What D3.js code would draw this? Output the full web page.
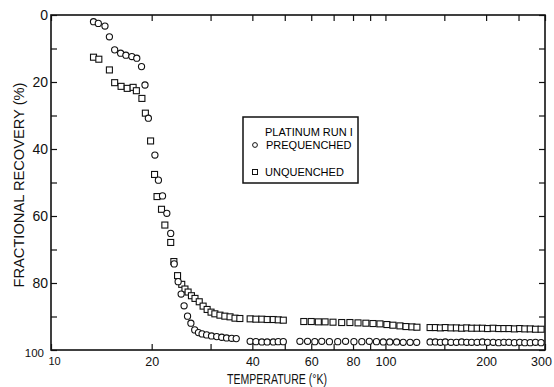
<!DOCTYPE html>
<html>
<head>
<meta charset="utf-8">
<script src="https://cdn.jsdelivr.net/npm/d3@7"></script>
<style>
  body { margin: 0; background: #fff; }
  svg { display: block; font-family: "Liberation Sans", Arial, sans-serif; }
</style>
</head>
<body>
<svg class="svg" width="554" height="387"></svg>
<script>
// prequenched (circles): temperature (K) and fractional recovery (%)
const preTemp = [13.4, 13.85, 14.5, 14.95, 15.5, 16.15, 16.75, 17.45, 18.05, 18.65, 19.1, 19.55,
  20.45, 20.95, 21.55, 22.2, 22.8, 23.35, 24.0, 24.5, 25.0, 25.6, 26.2, 26.9, 27.6, 28.3, 29.2,
  30.2, 31.3, 32.4, 33.5, 34.7, 35.8,
  39.4, 41.0, 42.7, 44.3, 46.2, 47.8, 49.5,
  55.5, 58.5, 61.5, 64.5, 68, 72, 76, 80.5, 85, 89.5, 94, 98.5, 103, 108, 113, 118.5, 124,
  136, 141, 146, 151, 157, 163, 169, 175, 181, 188, 195, 202, 210, 218, 226, 234, 243, 252, 261, 271, 281, 292];
const preRec = [2.0, 2.5, 3.3, 6.5, 10.4, 11.4, 12.0, 12.4, 12.9, 15.4, 20.9, 30.8,
  41.8, 49.3, 54.0, 59.2, 65.2, 74.3, 79.6, 83.3, 86.8, 89.9, 92.0, 94.0, 94.8, 95.2, 95.5,
  95.8, 96.0, 96.2, 96.4, 96.5, 96.6,
  97.4, 97.5, 97.6, 97.6, 97.6, 97.5, 97.5,
  97.4, 97.4, 97.5, 97.4, 97.5, 97.5, 97.4, 97.5, 97.5, 97.4, 97.5, 97.6, 97.6, 97.6, 97.7, 97.7, 97.7,
  97.6, 97.6, 97.7, 97.6, 97.7, 97.7, 97.6, 97.7, 97.7, 97.7, 97.6, 97.7, 97.7, 97.8, 97.7, 97.7, 97.8, 97.7, 97.8, 97.8, 97.7, 97.8];

// unquenched (squares)
const unTemp = [13.4, 13.9, 14.95, 15.5, 16.2, 16.9, 17.6, 18.0, 18.7, 19.15, 19.85,
  20.4, 20.75, 21.4, 21.9, 22.8, 23.3, 23.9, 24.6, 25.15, 25.7, 26.3, 26.95, 27.75, 28.5, 29.3,
  30.1, 30.9, 32.0, 33.1, 34.3, 35.5, 36.7,
  39.4, 41.0, 42.7, 44.3, 46.2, 47.8, 49.5,
  57, 60, 63, 66, 69.7, 74, 78.3, 82.8, 87.4, 91.8, 96.3, 101, 105.3, 110.5, 115.2, 120, 124.2,
  136, 141, 146, 151, 157, 163, 169, 175, 181, 188, 195, 202, 210, 218, 226, 234, 243, 252, 261, 271, 281, 292];
const unRec = [12.6, 13.2, 16.4, 20.2, 21.3, 21.9, 21.6, 22.6, 24.9, 29.3, 37.6,
  47.6, 54.2, 58.0, 62.7, 67.9, 73.6, 77.8, 80.4, 81.8, 82.7, 83.8, 84.6, 85.6, 86.9, 87.9,
  88.7, 89.2, 89.6, 89.9, 90.1, 90.5, 90.6,
  90.7, 90.8, 90.8, 90.9, 90.9, 91.0, 91.1,
  91.5, 91.5, 91.6, 91.6, 91.7, 91.8, 91.8, 91.9, 92.0, 92.1, 92.2, 92.4, 92.6, 92.8, 93.0, 93.1, 93.2,
  93.3, 93.3, 93.4, 93.3, 93.4, 93.4, 93.5, 93.4, 93.5, 93.5, 93.5, 93.6, 93.5, 93.6, 93.6, 93.6, 93.7, 93.6, 93.7, 93.7, 93.8, 93.8];

// axes
const xTicks = [10, 20, 30, 40, 50, 60, 70, 80, 90, 100, 150, 200, 250, 300];
const xLabels = [10, 20, 40, 60, 80, 100, 200, 300];
const yTicks = [0, 10, 20, 30, 40, 50, 60, 70, 80, 90, 100];
const yLabels = [0, 20, 40, 60, 80, 100];

const legendTitle = "PLATINUM RUN I";
const legendNames = ["PREQUENCHED", "UNQUENCHED"];

const svg = d3.select(".svg");

const x = d3.scaleLog().domain([10, 300]).range([51, 545]);
const y = d3.scaleLinear().domain([0, 100]).range([15, 350]);

// 坐标轴 (ticks inward)
const xAxis = svg.append("g")
    .attr("transform", `translate(0,${y(100)})`)
    .call(d3.axisBottom(x).tickValues(xTicks).tickSize(-6).tickPadding(7)
        .tickFormat(d => xLabels.includes(d) ? d : ""));
xAxis.selectAll("text").attr("font-size", 12.5).attr("fill", "#111");
xAxis.selectAll("text").filter(d => d === 10).attr("font-size", 11).attr("dx", 3);
xAxis.selectAll("text").filter(d => d === 300).attr("dx", -4);

svg.append("g")
    .attr("transform", `translate(0,${y(0)})`)
    .call(d3.axisTop(x).tickValues(xTicks).tickSize(-6).tickFormat(""));

const yAxis = svg.append("g")
    .attr("transform", `translate(${x(10)},0)`)
    .call(d3.axisLeft(y).tickValues(yTicks).tickSize(-6).tickPadding(3)
        .tickFormat(d => yLabels.includes(d) ? d : ""));
yAxis.selectAll("text").attr("font-size", 14).attr("fill", "#111");
yAxis.selectAll("text").filter(d => d === 100).attr("font-size", 11.5).attr("dy", "0.6em").attr("dx", -4);

svg.append("g")
    .attr("transform", `translate(${x(300)},0)`)
    .call(d3.axisRight(y).tickValues(yTicks).tickSize(-6).tickFormat(""));

svg.selectAll(".domain").remove();
svg.selectAll(".tick line").attr("stroke", "#111").attr("stroke-width", 1.2);

// 边框
svg.append("rect")
    .attr("x", x(10)).attr("y", y(0))
    .attr("width", x(300) - x(10)).attr("height", y(100) - y(0))
    .attr("fill", "none").attr("stroke", "#111").attr("stroke-width", 1.6);

// 数据点
const pre = preTemp.map((t, i) => ({t, r: preRec[i]}));
const un = unTemp.map((t, i) => ({t, r: unRec[i]}));

svg.append("g").selectAll("rect")
    .data(un).enter().append("rect")
    .attr("x", d => x(d.t) - 3).attr("y", d => y(d.r) - 3)
    .attr("width", 6).attr("height", 6)
    .attr("fill", "#fff").attr("stroke", "#111").attr("stroke-width", 1.1);

svg.append("g").selectAll("circle")
    .data(pre).enter().append("circle")
    .attr("cx", d => x(d.t)).attr("cy", d => y(d.r))
    .attr("r", 3.1)
    .attr("fill", "#fff").attr("stroke", "#111").attr("stroke-width", 1.1);

// 图例
const lg = svg.append("g");
lg.append("rect")
    .attr("x", 243).attr("y", 117).attr("width", 115).attr("height", 66)
    .attr("fill", "#fff").attr("stroke", "#111").attr("stroke-width", 1.5);
lg.append("text").attr("x", 265).attr("y", 136).attr("font-size", 11).text(legendTitle);
lg.append("circle").attr("cx", 255).attr("cy", 145).attr("r", 2.4)
    .attr("fill", "none").attr("stroke", "#111").attr("stroke-width", 1);
lg.append("text").attr("x", 266).attr("y", 149).attr("font-size", 11).text(legendNames[0]);
lg.append("rect").attr("x", 252.5).attr("y", 169.5).attr("width", 5).attr("height", 5)
    .attr("fill", "none").attr("stroke", "#111").attr("stroke-width", 1);
lg.append("text").attr("x", 265).attr("y", 176).attr("font-size", 11).text(legendNames[1]);

// 轴标题
svg.append("text")
    .attr("x", 277).attr("y", 384)
    .attr("text-anchor", "middle").attr("font-size", 14)
    .attr("textLength", 100).attr("lengthAdjust", "spacingAndGlyphs")
    .attr("fill", "#111")
    .text("TEMPERATURE (°K)");

svg.append("text")
    .attr("transform", "translate(24,185) rotate(-90)")
    .attr("text-anchor", "middle").attr("font-size", 14)
    .attr("textLength", 205).attr("lengthAdjust", "spacingAndGlyphs")
    .attr("fill", "#111")
    .text("FRACTIONAL RECOVERY (%)");
</script>
</body>
</html>
